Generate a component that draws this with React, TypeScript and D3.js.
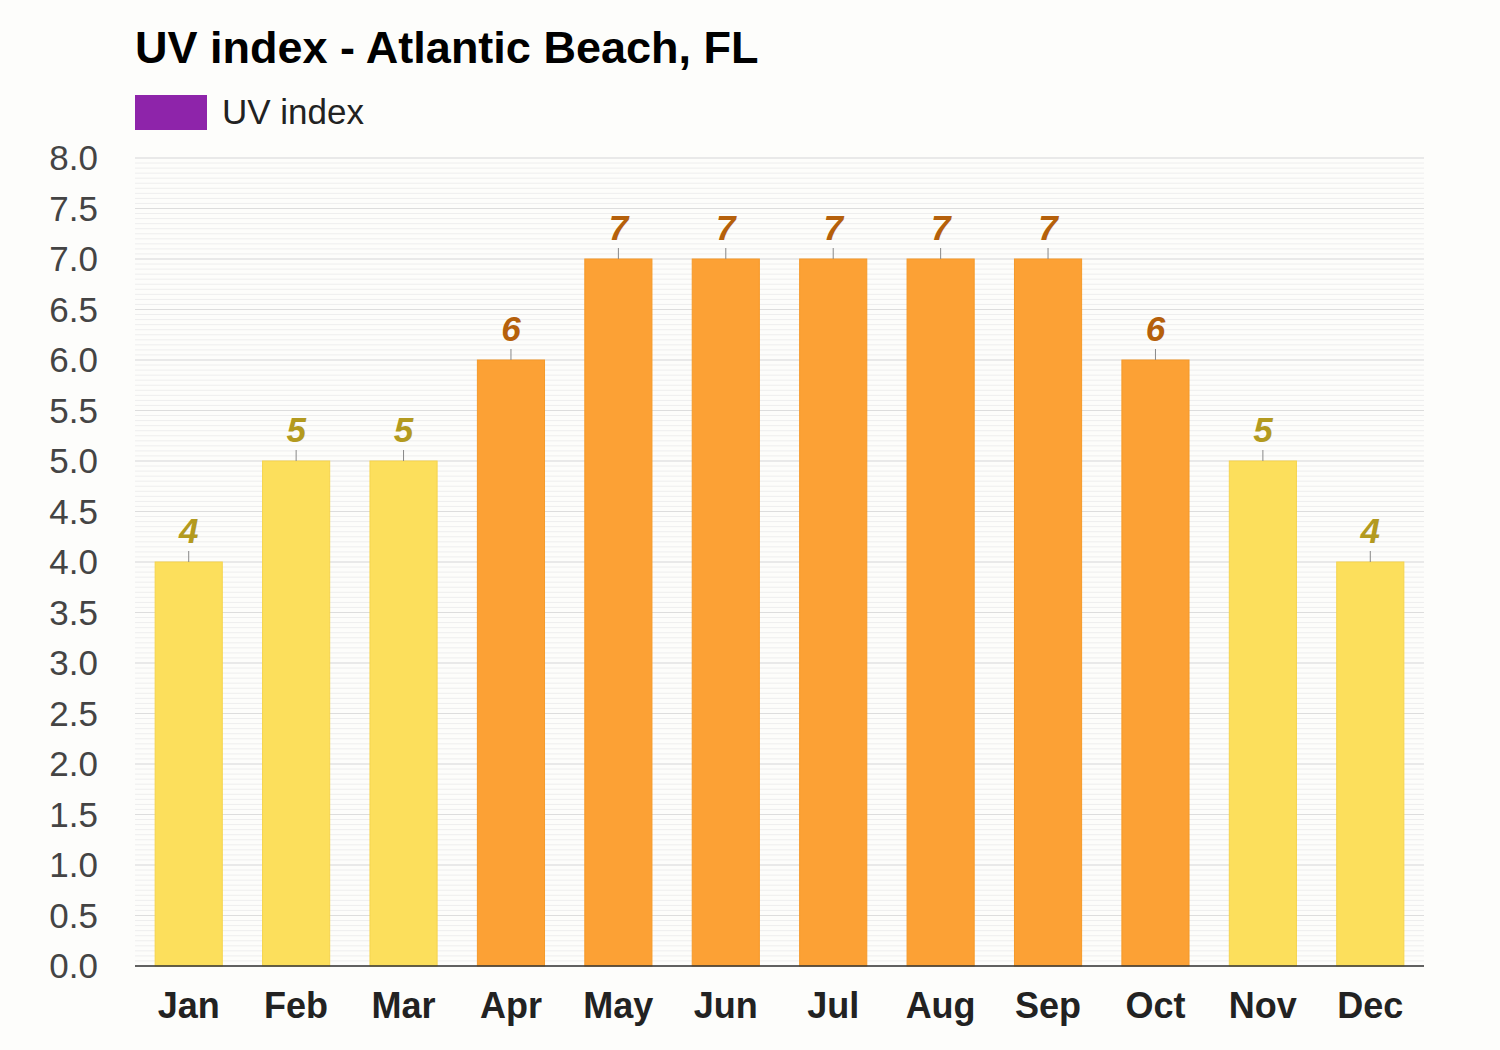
import React from "react";
import * as d3 from "d3";

const months = ["Jan", "Feb", "Mar", "Apr", "May", "Jun", "Jul", "Aug", "Sep", "Oct", "Nov", "Dec"];
const uvValues = [4, 5, 5, 6, 7, 7, 7, 7, 7, 6, 5, 4];
const yTicks = [0, 0.5, 1, 1.5, 2, 2.5, 3, 3.5, 4, 4.5, 5, 5.5, 6, 6.5, 7, 7.5, 8];
const title = "UV index - Atlantic Beach, FL";
const legendLabel = "UV index";

const W = 1500, H = 1050;
const m = { left: 135, right: 1424, top: 158, bottom: 966 };

export default function App() {
  const x = d3.scaleBand<string>().domain(months).range([m.left, m.right]).paddingInner(0.375).paddingOuter(0.1875);
  const y = d3.scaleLinear().domain([0, 8]).range([m.bottom, m.top]);
  const minor = d3.range(0, 8.0001, 0.05);
  const font = "'Liberation Sans', Arial, sans-serif";
  const fillFor = (v: number) => (v >= 6 ? "#fca135" : "#fcdf5c");
  const strokeFor = (v: number) => (v >= 6 ? "#f59a2a" : "#f5d44e");
  const labelFor = (v: number) => (v >= 6 ? "#b5600b" : "#b39a1f");
  return (
    <svg width={W} height={H} style={{ position: "absolute", left: 0, top: 0, background: "#fdfdfb" }} fontFamily={font}>
      <rect x={0} y={0} width={W} height={H} fill="#fdfdfb" />
      <text x={135} y={63} fontSize={45} fontWeight="bold" fill="#000">{title}</text>
      <rect x={135} y={95} width={72} height={35} fill="#8e24aa" />
      <text x={222} y={124} fontSize={35} fill="#222">{legendLabel}</text>
      {minor.map((v, i) => (
        <line key={"mn" + i} x1={m.left} x2={m.right} y1={y(v)} y2={y(v)} stroke="#eeeeee" strokeWidth={1} />
      ))}
      {yTicks.map((v) => (
        <line key={"mj" + v} x1={m.left} x2={m.right} y1={y(v)} y2={y(v)} stroke="#dddddd" strokeWidth={1} />
      ))}
      {yTicks.map((v) => (
        <text key={"yl" + v} x={98} y={y(v) + 12} textAnchor="end" fontSize={35} fill="#444">{v.toFixed(1)}</text>
      ))}
      {months.map((mo, i) => {
        const v = uvValues[i];
        const bx = x(mo)!;
        const bw = x.bandwidth();
        const cx = bx + bw / 2;
        return (
          <g key={mo}>
            <rect x={bx} y={y(v)} width={bw} height={y(0) - y(v)} fill={fillFor(v)} stroke={strokeFor(v)} strokeWidth={1} />
            <line x1={cx} x2={cx} y1={y(v) - 11} y2={y(v)} stroke="#888" strokeWidth={1} />
            <text x={cx} y={y(v) - 19} textAnchor="middle" fontSize={35} fontWeight="bold" fontStyle="italic" fill={labelFor(v)}>{v}</text>
            <text x={cx} y={1018} textAnchor="middle" fontSize={36} fontWeight="bold" fill="#222">{mo}</text>
          </g>
        );
      })}
      <line x1={m.left} x2={m.right} y1={y(0)} y2={y(0)} stroke="#333" strokeWidth={1.5} />
    </svg>
  );
}
